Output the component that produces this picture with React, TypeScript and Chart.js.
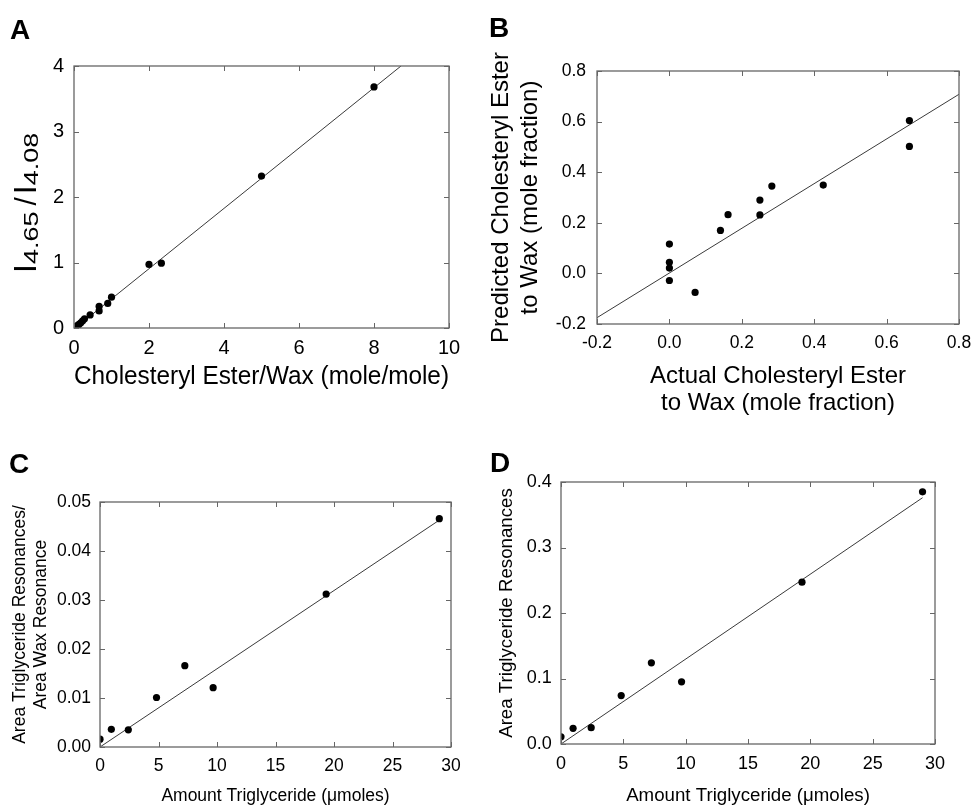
import React, { useEffect, useRef } from "react";
import { Chart, registerables } from "chart.js";

Chart.register(...registerables);

const FONT = "'Liberation Sans', Arial, Helvetica, sans-serif";

// ---------- Panel A ----------
const aRatioX = [0.09, 0.13, 0.18, 0.23, 0.28, 0.43, 0.67, 0.67, 0.9, 1.0, 2.0, 2.33, 5.0, 8.0];
const aRatioY = [0.035, 0.055, 0.08, 0.11, 0.14, 0.2, 0.26, 0.33, 0.375, 0.47, 0.97, 0.99, 2.32, 3.68];
const aFitX = [0.1, 8.72];
const aFitY = [0.03, 4.0];
const aXTicks = [0, 2, 4, 6, 8, 10];
const aYTicks = [0, 1, 2, 3, 4];

// ---------- Panel B ----------
const bActual = [0.0, 0.0, 0.0, 0.0, 0.071, 0.141, 0.162, 0.25, 0.25, 0.283, 0.425, 0.663, 0.663];
const bPredicted = [0.116, 0.044, 0.021, -0.028, -0.075, 0.17, 0.232, 0.29, 0.231, 0.345, 0.349, 0.604, 0.502];
const bFitX = [-0.2, 0.8];
const bFitY = [-0.175, 0.708];
const bXTicks = [-0.2, 0.0, 0.2, 0.4, 0.6, 0.8];
const bYTicks = [-0.2, 0.0, 0.2, 0.4, 0.6, 0.8];

// ---------- Panel C ----------
const cAmount = [0, 0.97, 2.42, 4.83, 7.25, 9.67, 19.33, 29.0];
const cRatio = [0.0016, 0.0036, 0.0035, 0.0101, 0.0166, 0.0121, 0.0312, 0.0466];
const cFitX = [0, 29.0];
const cFitY = [0, 0.0463];
const cXTicks = [0, 5, 10, 15, 20, 25, 30];
const cYTicks = [0, 0.01, 0.02, 0.03, 0.04, 0.05];

// ---------- Panel D ----------
const dAmount = [0, 0.97, 2.42, 4.83, 7.25, 9.67, 19.33, 29.0];
const dArea = [0.011, 0.024, 0.025, 0.074, 0.124, 0.095, 0.247, 0.385];
const dFitX = [0, 29.0];
const dFitY = [0, 0.376];
const dXTicks = [0, 5, 10, 15, 20, 25, 30];
const dYTicks = [0, 0.1, 0.2, 0.3, 0.4];

const framePlugin = {
  id: "frameTicks",
  afterDatasetsDraw(chart: any) {
    const { ctx, chartArea } = chart;
    const { left, right, top, bottom } = chartArea;
    const xs = chart.scales.x;
    const ys = chart.scales.y;
    ctx.save();
    ctx.strokeStyle = "#666";
    ctx.lineWidth = 1.3;
    ctx.strokeRect(left, top, right - left, bottom - top);
    ctx.lineWidth = 1;
    ctx.beginPath();
    const L = 5;
    xs.ticks.forEach((t: any) => {
      const p = Math.round(xs.getPixelForValue(t.value)) + 0.5;
      ctx.moveTo(p, bottom);
      ctx.lineTo(p, bottom - L);
      ctx.moveTo(p, top);
      ctx.lineTo(p, top + L);
    });
    ys.ticks.forEach((t: any) => {
      const p = Math.round(ys.getPixelForValue(t.value)) + 0.5;
      ctx.moveTo(left, p);
      ctx.lineTo(left + L, p);
      ctx.moveTo(right, p);
      ctx.lineTo(right - L, p);
    });
    ctx.stroke();
    ctx.restore();
  },
};

const aTitlePlugin = {
  id: "aYTitle",
  afterDraw(chart: any) {
    const ctx = chart.ctx;
    const ca = chart.chartArea;
    ctx.save();
    ctx.translate(ca.left - 38, ca.bottom - 55);
    ctx.rotate(-Math.PI / 2);
    ctx.fillStyle = "#000";
    ctx.textBaseline = "alphabetic";
    let x = 0;
    const big = (t: string, size: number) => {
      ctx.font = `${size}px ${FONT}`;
      ctx.fillText(t, x, 0);
      x += ctx.measureText(t).width;
    };
    const sub = (t: string) => {
      ctx.save();
      ctx.font = `20px ${FONT}`;
      const w = ctx.measureText(t).width * 1.35;
      ctx.translate(x, 1.5);
      ctx.scale(1.35, 1);
      ctx.fillText(t, 0, 0);
      ctx.restore();
      x += w;
    };
    big("I", 32);
    sub("4.65");
    x += 6;
    big("/", 30);
    x += 3;
    big("I", 32);
    sub("4.08");
    ctx.restore();
  },
};

type PanelProps = {
  box: { left: number; top: number; width: number; height: number };
  area: { left: number; top: number; right: number; bottom: number };
  xs: number[];
  ys: number[];
  fitX: number[];
  fitY: number[];
  xMin: number;
  xMax: number;
  yMin: number;
  yMax: number;
  xTicks: number[];
  yTicks: number[];
  xDec: number;
  yDec: number;
  tickSize: number;
  tickPadX: number;
  tickPadY: number;
  xTitle: string | string[];
  xTitleSize: number;
  xTitleLH: number;
  xTitlePad: number;
  yTitle: string | string[] | null;
  yTitleSize: number;
  yTitleLH: number;
  yTitlePad: number;
  extraPlugins?: any[];
};

function Panel(p: PanelProps) {
  const ref = useRef<HTMLCanvasElement | null>(null);
  useEffect(() => {
    if (!ref.current) return;
    const { box, area } = p;
    const chart = new Chart(ref.current, {
      type: "scatter",
      data: {
        datasets: [
          {
            data: p.xs.map((v, i) => ({ x: v, y: p.ys[i] })),
            backgroundColor: "#000",
            borderColor: "#000",
            borderWidth: 0,
            pointRadius: 3.6,
            pointHoverRadius: 3.6,
          },
          {
            type: "line",
            data: p.fitX.map((v, i) => ({ x: v, y: p.fitY[i] })),
            borderColor: "#3a3a3a",
            borderWidth: 1,
            pointRadius: 0,
            showLine: true,
            fill: false,
            tension: 0,
          } as any,
        ],
      },
      options: {
        animation: false,
        responsive: false,
        devicePixelRatio: 1,
        events: [],
        layout: {
          padding: {
            left: 0,
            top: area.top - box.top,
            right: box.left + box.width - area.right,
            bottom: 0,
          },
        },
        plugins: {
          legend: { display: false },
          tooltip: { enabled: false },
          title: { display: false },
        },
        scales: {
          x: {
            type: "linear",
            position: "bottom",
            min: p.xMin,
            max: p.xMax,
            afterBuildTicks: (s: any) => {
              s.ticks = p.xTicks.map((v) => ({ value: v }));
            },
            afterFit: (s: any) => {
              s.height = box.top + box.height - area.bottom;
              s.paddingLeft = 0;
              s.paddingRight = 0;
              s.paddingTop = 0;
              s.paddingBottom = 0;
            },
            grid: { display: false, drawTicks: false },
            border: { display: false },
            ticks: {
              color: "#000",
              font: { family: FONT, size: p.tickSize },
              padding: p.tickPadX,
              maxRotation: 0,
              autoSkip: false,
              callback: (v: any) => Number(v).toFixed(p.xDec),
            },
            title: {
              display: true,
              text: p.xTitle,
              color: "#000",
              font: { family: FONT, size: p.xTitleSize, lineHeight: p.xTitleLH },
              padding: { top: 0, bottom: p.xTitlePad },
            },
          },
          y: {
            type: "linear",
            position: "left",
            min: p.yMin,
            max: p.yMax,
            afterBuildTicks: (s: any) => {
              s.ticks = p.yTicks.map((v) => ({ value: v }));
            },
            afterFit: (s: any) => {
              s.width = area.left - box.left;
              s.paddingLeft = 0;
              s.paddingRight = 0;
              s.paddingTop = 0;
              s.paddingBottom = 0;
            },
            grid: { display: false, drawTicks: false },
            border: { display: false },
            ticks: {
              color: "#000",
              font: { family: FONT, size: p.tickSize },
              padding: p.tickPadY,
              autoSkip: false,
              callback: (v: any) => Number(v).toFixed(p.yDec),
            },
            title: {
              display: p.yTitle !== null,
              text: p.yTitle || "",
              color: "#000",
              font: { family: FONT, size: p.yTitleSize, lineHeight: p.yTitleLH },
              padding: { top: p.yTitlePad, bottom: 0 },
            },
          },
        },
      } as any,
      plugins: [framePlugin, ...(p.extraPlugins || [])],
    });
    return () => chart.destroy();
  }, []);
  return (
    <canvas
      ref={ref}
      width={p.box.width}
      height={p.box.height}
      style={{
        position: "absolute",
        left: p.box.left,
        top: p.box.top,
        width: p.box.width,
        height: p.box.height,
      }}
    />
  );
}

const letterStyle = (left: number, top: number): React.CSSProperties => ({
  position: "absolute",
  left,
  top,
  fontFamily: FONT,
  fontWeight: "bold",
  fontSize: 28,
  lineHeight: "28px",
  color: "#000",
});

export default function App() {
  return (
    <div
      style={{
        position: "absolute",
        left: 0,
        top: 0,
        width: 972,
        height: 807,
        background: "#fff",
        overflow: "hidden",
      }}
    >
      <Panel
        box={{ left: 0, top: 0, width: 470, height: 395 }}
        area={{ left: 74, top: 66, right: 449, bottom: 328 }}
        xs={aRatioX}
        ys={aRatioY}
        fitX={aFitX}
        fitY={aFitY}
        xMin={0}
        xMax={10}
        yMin={0}
        yMax={4}
        xTicks={aXTicks}
        yTicks={aYTicks}
        xDec={0}
        yDec={0}
        tickSize={20}
        tickPadX={8}
        tickPadY={10}
        xTitle="Cholesteryl Ester/Wax (mole/mole)"
        xTitleSize={25}
        xTitleLH={1.2}
        xTitlePad={3}
        yTitle={null}
        yTitleSize={20}
        yTitleLH={1.2}
        yTitlePad={0}
        extraPlugins={[aTitlePlugin]}
      />
      <Panel
        box={{ left: 470, top: 0, width: 502, height: 420 }}
        area={{ left: 597, top: 71, right: 959, bottom: 324 }}
        xs={bActual}
        ys={bPredicted}
        fitX={bFitX}
        fitY={bFitY}
        xMin={-0.2}
        xMax={0.8}
        yMin={-0.2}
        yMax={0.8}
        xTicks={bXTicks}
        yTicks={bYTicks}
        xDec={1}
        yDec={1}
        tickSize={17.5}
        tickPadX={8.8}
        tickPadY={11}
        xTitle={["Actual Cholesteryl Ester", "to Wax (mole fraction)"]}
        xTitleSize={24}
        xTitleLH={1.1}
        xTitlePad={3.8}
        yTitle={["Predicted Cholesteryl Ester", "to Wax (mole fraction)"]}
        yTitleSize={24}
        yTitleLH={1.18}
        yTitlePad={17.5}
      />
      <Panel
        box={{ left: 0, top: 420, width: 480, height: 387 }}
        area={{ left: 100, top: 502, right: 451, bottom: 747 }}
        xs={cAmount}
        ys={cRatio}
        fitX={cFitX}
        fitY={cFitY}
        xMin={0}
        xMax={30}
        yMin={0}
        yMax={0.05}
        xTicks={cXTicks}
        yTicks={cYTicks}
        xDec={0}
        yDec={2}
        tickSize={17.5}
        tickPadX={8.9}
        tickPadY={9}
        xTitle="Amount Triglyceride (μmoles)"
        xTitleSize={17.5}
        xTitleLH={1.2}
        xTitlePad={0.5}
        yTitle={["Area Triglyceride Resonances/", "Area Wax Resonance"]}
        yTitleSize={17.5}
        yTitleLH={1.2}
        yTitlePad={10}
      />
      <Panel
        box={{ left: 480, top: 420, width: 492, height: 387 }}
        area={{ left: 561, top: 482, right: 935, bottom: 744 }}
        xs={dAmount}
        ys={dArea}
        fitX={dFitX}
        fitY={dFitY}
        xMin={0}
        xMax={30}
        yMin={0}
        yMax={0.4}
        xTicks={dXTicks}
        yTicks={dYTicks}
        xDec={0}
        yDec={1}
        tickSize={18}
        tickPadX={8.9}
        tickPadY={9.3}
        xTitle="Amount Triglyceride (μmoles)"
        xTitleSize={18.7}
        xTitleLH={1.2}
        xTitlePad={0}
        yTitle="Area Triglyceride Resonances"
        yTitleSize={18.7}
        yTitleLH={1.2}
        yTitlePad={15.5}
      />
      <div style={letterStyle(10, 16)}>A</div>
      <div style={letterStyle(489, 14)}>B</div>
      <div style={letterStyle(9, 450)}>C</div>
      <div style={letterStyle(490, 449)}>D</div>
    </div>
  );
}
